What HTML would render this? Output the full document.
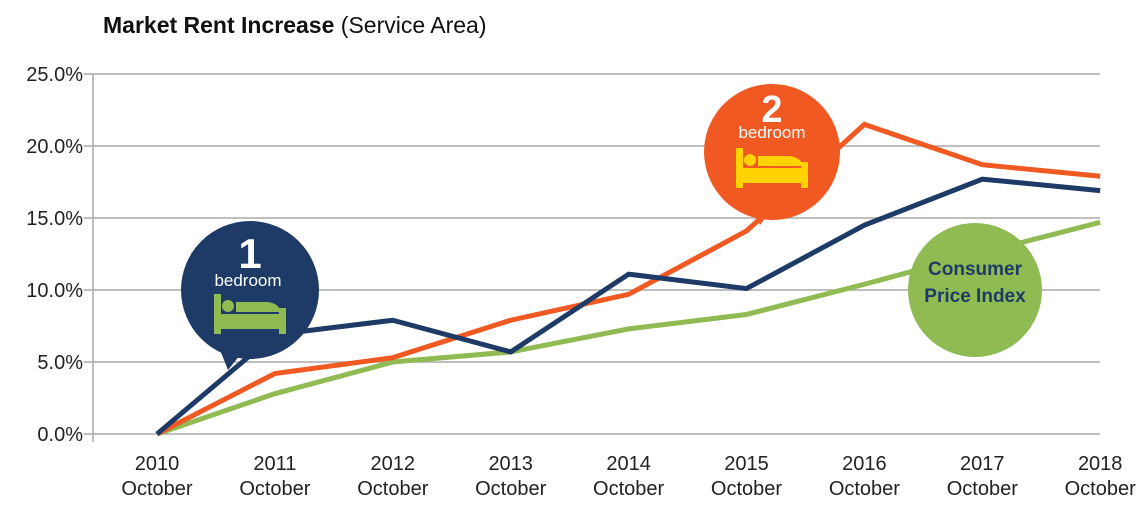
<!DOCTYPE html>
<html><head><meta charset="utf-8"><style>
body{margin:0;background:#fff;}
svg{display:block;font-family:"Liberation Sans",sans-serif;}
</style></head><body>
<svg id="chart" width="1146" height="506" viewBox="0 0 1146 506">
<text x="103" y="33" font-size="23" fill="#111"><tspan font-weight="bold">Market Rent Increase</tspan> (Service Area)</text>
<g id="grid"></g><g id="lines"></g><g id="labels"></g>
</svg>
<script>
const categories=["2010","2011","2012","2013","2014","2015","2016","2017","2018"];
const oneBedroom=[0,6.9,7.9,5.7,11.1,10.1,14.5,17.7,16.9];
const twoBedroom=[0,4.2,5.3,7.9,9.7,14.1,21.5,18.7,17.9];
const cpi=[0,2.8,5.0,5.7,7.3,8.3,10.4,12.6,14.7];
const yTicks=[0,5,10,15,20,25];
const NS="http://www.w3.org/2000/svg";
const x=i=>157+i*117.9;
const y=v=>434-v*14.4;
function mk(t,a,p){const e=document.createElementNS(NS,t);for(const k in a)e.setAttribute(k,a[k]);p.appendChild(e);return e;}
const g=document.getElementById('grid'),L=document.getElementById('lines'),lab=document.getElementById('labels');
yTicks.forEach(v=>{
 const l=mk('line',{x1:84,x2:1100,y1:y(v),y2:y(v),stroke:'#aaa','stroke-width':1.5},g);
 
 
 const t=mk('text',{x:83,y:y(v)+7,'text-anchor':'end','font-size':20,fill:'#222'},g);
 t.textContent=v.toFixed(1)+'%';
 
 
});
const ax=mk('line',{x1:93,x2:93,y1:74,y2:442,stroke:'#aaa','stroke-width':1.5},g);


categories.forEach((c,i)=>{
 const t=mk('text',{x:x(i),y:470,'text-anchor':'middle','font-size':20,fill:'#222'},g);
 t.textContent=c;
 
 
 const t2=mk('text',{x:x(i),y:495,'text-anchor':'middle','font-size':20,fill:'#222'},g);
 t2.textContent='October';
 
 
});
function series(d,col,name){
 const p=mk('polyline',{points:d.map((v,i)=>x(i)+','+y(v)).join(' '),fill:'none',stroke:col,'stroke-width':5,'stroke-linejoin':'miter'},L);
 
 
}
series(cpi,'#8fbb52','cpi-line');
series(twoBedroom,'#f05a22','two-bedroom-line');
series(oneBedroom,'#1e3a66','one-bedroom-line');
function bed(cx,cy,col,grp){
 mk('rect',{x:cx-36,y:cy-4,width:7,height:40,fill:col},grp);
 mk('circle',{cx:cx-22,cy:cy+8,r:6,fill:col},grp);
 mk('path',{d:`M${cx-29} ${cy+16} H${cx+32} V${cy+31} H${cx-29} Z M${cx-14} ${cy+4} H${cx+18} Q${cx+30} ${cy+6} ${cx+30} ${cy+14} H${cx-14} Z`,fill:col},grp);
 mk('rect',{x:cx+29,y:cy+10,width:7,height:26,fill:col},grp);
}
function bubble(cx,cy,r,col,name,tail){
 const grp=mk('g',{},lab);
 
 
 mk('circle',{cx:cx,cy:cy,r:r,fill:col},grp);
 if(tail) mk('polygon',{points:tail,fill:col},grp);
 return grp;
}
const b1=bubble(250,290,69,'#1e3a66','one-bedroom-bubble','218,345 240,355 228,370');
let t=mk('text',{x:250,y:268,'text-anchor':'middle','font-size':42,'font-weight':'bold',fill:'#fff'},b1);t.textContent='1';
t=mk('text',{x:248,y:286,'text-anchor':'middle','font-size':17,fill:'#fff'},b1);t.textContent='bedroom';
bed(250,298,'#8fbb52',b1);
const b2=bubble(772,152,68,'#f05a22','two-bedroom-bubble','752,210 770,212 760,225');
t=mk('text',{x:772,y:122,'text-anchor':'middle','font-size':38,'font-weight':'bold',fill:'#fff'},b2);t.textContent='2';
t=mk('text',{x:772,y:138,'text-anchor':'middle','font-size':17,fill:'#fff'},b2);t.textContent='bedroom';
bed(772,152,'#ffd200',b2);
const b3=bubble(975,290,67,'#8fbb52','cpi-bubble',null);
t=mk('text',{x:975,y:275,'text-anchor':'middle','font-size':19,'font-weight':'bold',fill:'#1e3a66'},b3);t.textContent='Consumer';
t=mk('text',{x:975,y:302,'text-anchor':'middle','font-size':19,'font-weight':'bold',fill:'#1e3a66'},b3);t.textContent='Price Index';
</script>
</body></html>
